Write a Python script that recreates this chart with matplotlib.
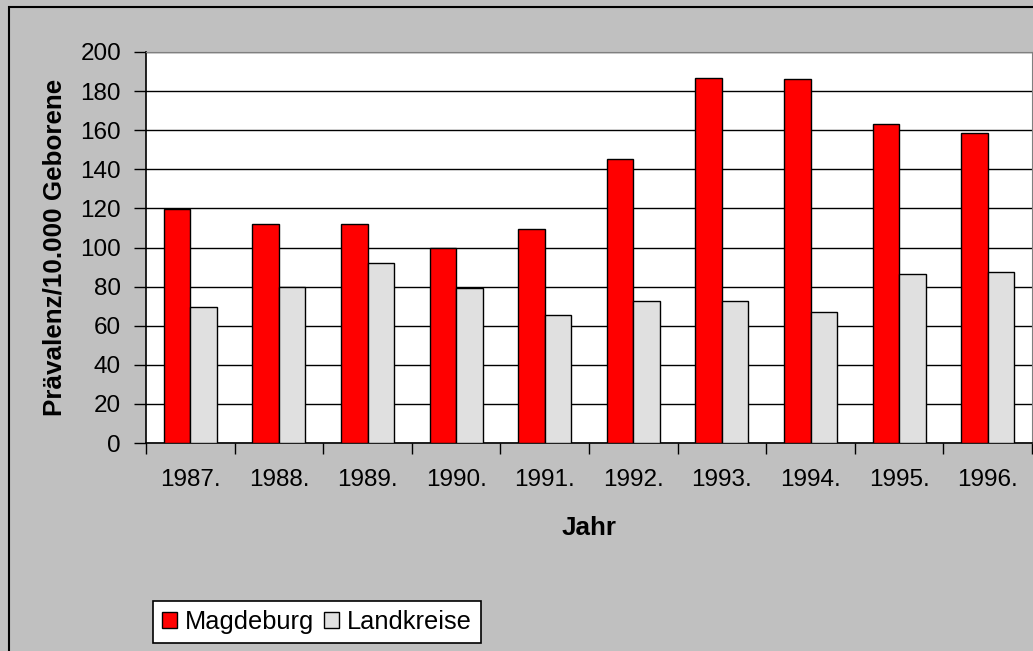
import numpy as np
import matplotlib
matplotlib.use("Agg")
import matplotlib.pyplot as plt
from matplotlib.patches import Rectangle

years = ["1987.", "1988.", "1989.", "1990.", "1991.", "1992.", "1993.", "1994.", "1995.", "1996."]
magdeburg = [119.5, 112, 112, 100, 109.6, 145.5, 186.7, 186.2, 163, 158.8]
landkreise = [69.7, 80, 92, 79.5, 65.6, 72.8, 72.8, 67.2, 86.6, 87.6]

plt.rcParams['font.family'] = ['Liberation Sans', 'DejaVu Sans']
fs = 17.5

fig = plt.figure(figsize=(10.33, 6.51), dpi=100, facecolor='#C0C0C0')
ax = fig.add_axes([146 / 1033, (651 - 443) / 651, 886 / 1033, 391 / 651])
ax.set_facecolor('white')

# outer frame of the chart
fig.patches.append(Rectangle((9 / 1033, -0.05), 1.2, (651 - 7) / 651 + 0.05,
                             transform=fig.transFigure, fill=False,
                             edgecolor='black', linewidth=1.5, zorder=10))

x = np.arange(len(years))
w = 0.3
ax.bar(x - w / 2, magdeburg, w, color='#FF0000', edgecolor='black', linewidth=1, label='Magdeburg', zorder=3)
ax.bar(x + w / 2, landkreise, w, color='#E0E0E0', edgecolor='black', linewidth=1, label='Landkreise', zorder=3)

ax.set_xlim(-0.5, len(years) - 0.5)
ax.set_ylim(0, 200)
ax.set_yticks(range(0, 201, 20))
ax.yaxis.grid(True, color='black', linewidth=1, zorder=0)
ax.set_axisbelow(True)

# ticks at category boundaries, labels in the middle
ax.set_xticks(np.arange(-0.5, len(years), 1))
ax.set_xticklabels([])
ax.set_xticks(x, minor=True)
ax.set_xticklabels(years, minor=True)
ax.tick_params(axis='x', which='major', direction='out', length=8, width=1, color='black')
ax.tick_params(axis='x', which='minor', length=0, pad=19, labelsize=fs)
ax.tick_params(axis='y', direction='out', length=9, width=1, pad=9, labelsize=fs)

for s in ['top', 'right']:
    ax.spines[s].set_color('#808080')
for s in ['left', 'bottom']:
    ax.spines[s].set_color('black')
    ax.spines[s].set_linewidth(1.2)

ax.set_ylabel('Prävalenz/10.000 Geborene', fontsize=18.7, fontweight='bold')
ax.yaxis.set_label_coords(-0.090, 0.5)
ax.set_xlabel('Jahr', fontsize=18.7, fontweight='bold', va='center')
ax.xaxis.set_label_coords(0.5, -0.217)

leg = fig.legend(loc='lower left', bbox_to_anchor=(153 / 1033, 8 / 651), ncol=2,
                 fontsize=18.3, frameon=True, fancybox=False, handlelength=0.6,
                 handleheight=0.6, handletextpad=0.3, columnspacing=0.4,
                 borderpad=0.35, borderaxespad=0)
leg.get_frame().set_edgecolor('black')
leg.get_frame().set_linewidth(1.2)
leg.get_frame().set_facecolor('white')
leg.get_frame().set_alpha(1)

fig.savefig('out.png', dpi=100, facecolor=fig.get_facecolor())
